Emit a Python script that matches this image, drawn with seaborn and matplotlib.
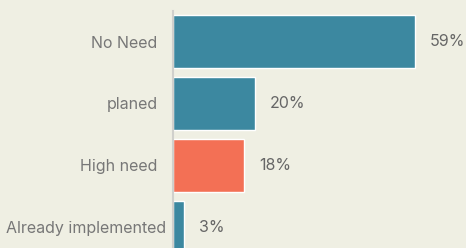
import matplotlib
matplotlib.use("Agg")
import matplotlib.pyplot as plt
import seaborn as sns
import pandas as pd

categories = ["No Need", "planed", "High need", "Already implemented"]
values = [59, 20, 17.4, 2.8]
value_labels = ["59%", "20%", "18%", "3%"]
bar_colors = ["#3c88a0", "#3c88a0", "#f37055", "#3c88a0"]

BG = "#efefe3"
sns.set_theme(style="white")
plt.rcParams["font.family"] = ["Inter", "DejaVu Sans"]

df = pd.DataFrame({"category": categories, "value": values})

fig = plt.figure(figsize=(4.66, 2.48), dpi=100, facecolor=BG)
ax = fig.add_axes([173 / 466, -10.5 / 248, 293 / 466, 248 / 248])
ax.set_facecolor(BG)

sns.barplot(data=df, x="value", y="category", hue="category",
            palette=dict(zip(categories, bar_colors)), orient="h",
            width=0.855, legend=False, ax=ax, saturation=1)

ax.set_xlim(0, 293 / 4.097)
ax.set_ylim(3.5, -0.5)
ax.set_xlabel("")
ax.set_ylabel("")
ax.set_xticks([])
for s in ["top", "right", "bottom"]:
    ax.spines[s].set_visible(False)
ax.spines["left"].set_color("#d0d0cc")
ax.spines["left"].set_linewidth(1.5)

ax.tick_params(axis="y", length=0, labelsize=11.5, labelcolor="#777777")
for i, t in enumerate(ax.yaxis.get_major_ticks()):
    t.set_pad(4.7 if i == 3 else 11)

for cont in ax.containers:
    for bar in cont:
        pass
bars = [b for c in ax.containers for b in c]
for b, lab in zip(bars, value_labels):
    ax.annotate(lab, (b.get_width(), b.get_y() + b.get_height() / 2),
                xytext=(10.5, 0), textcoords="offset points",
                ha="left", va="center", fontsize=11.5, color="#666666")

fig.savefig("out.png", dpi=100, facecolor=BG)
